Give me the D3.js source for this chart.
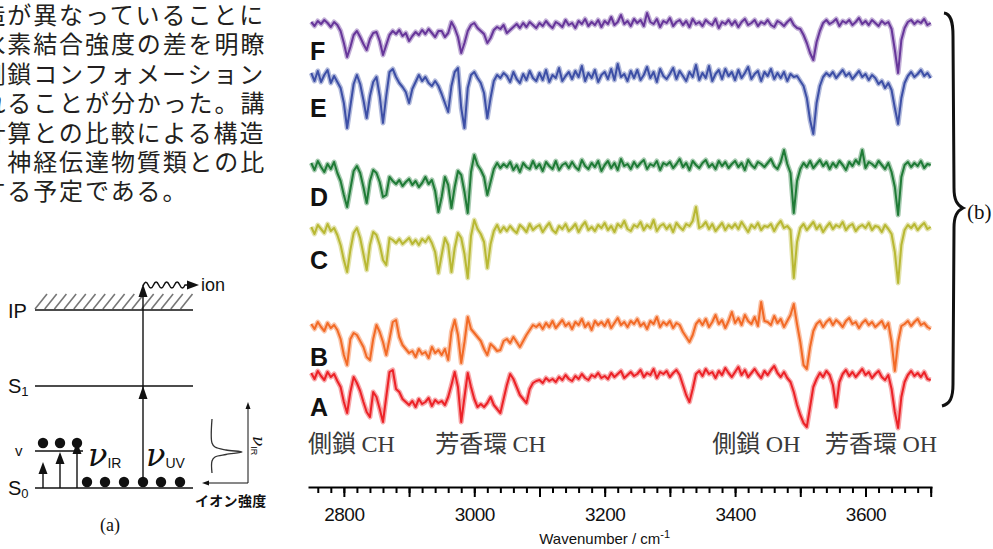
<!DOCTYPE html>
<html>
<head>
<meta charset="utf-8">
<script src="https://cdn.jsdelivr.net/npm/d3@7"></script>
<style>
  body { margin: 0; background: #fff; }
  svg { display: block; }
</style>
</head>
<body>
<script>
// ---- data -----------------------------------------------------------------
// IR-UV double resonance spectra, sampled every 5 cm-1 (2750 - 3700 cm-1)
const wavenumbers = d3.range(2750, 3701, 5);

const traceNames = ["A", "B", "C", "D", "E", "F"];
const traceColors = ["#ec2227", "#f26a26", "#b8b833", "#1f7b36", "#3d4fa6", "#67369a"];
// vertical offset of each trace (same units as the values)
const traceOffsets = [110, 160, 257, 320, 409, 462];

const spectrumA = [
  4, -2, 6, 1, -3, 5, 0, 3, -4, -10,
  -25, -36, -15, 0, -6, -14, -25, -35, -40, -15,
  -20, -32, -45, -20, 5, 7, -12, -15, -22, -25,
  -28, -24, -30, -22, -27, -25, -21, -29, -23, -26,
  -24, -28, -20, -8, 5, -10, -45, -20, 4, -10,
  -22, -30, -27, -30, -26, -20, -28, -32, -36, -22,
  -8, 3, -2, -10, -18, -22, -26, -12, -6, -4,
  -3, -6, -1, -4, -2, -5, 0, -3, 2, -2,
  -4, 1, -2, 3, -1, -3, 2, 0, 4, -1,
  1, -2, 4, 0, 3, 6, -1, 2, 5, 1,
  3, 7, 0, 4, 2, 8, -1, 5, 3, 6,
  0, 4, 7, 2, -8, -18, -25, -12, 3, 6,
  1, 8, 3, 5, -1, 6, 2, 9, 4, 0,
  5, 10, 2, 7, 0, 4, 8, 3, -1, 6,
  2, 7, 11, 4, 0, 5, -1, -5, -15, -28,
  -38, -46, -50, -30, -10, -2, 4, 0, 6, 2,
  -8, -30, -5, 3, 7, 1, 5, 0, 4, 8,
  2, 5, -1, 3, 6, 0, -3, 2, -12, -35,
  -51, -20, -5, 2, 6, 1, 4, 0, 5, -2,
  -3
];

const spectrumB = [
  3, -2, 5, 0, -4, 4, -1, 2, -3, -12,
  -28, -38, -12, -6, -8, -14, -20, -30, -33, -12,
  2, -5, -15, -28, -12, 5, 7, -10, -18, -22,
  -26, -24, -30, -22, -27, -25, -31, -20, -26, -23,
  -28, -22, -33, -5, 7, -8, -36, -15, 10, -2,
  -6, -10, -14, -22, -28, -17, -20, -24, -23, -14,
  -12, -16, -10, -15, -20, -14, -8, -3, 2, 0,
  3, -2, 4, 0, 6, -1, 3, 7, 1, 4,
  -2, 5, 2, 8, 0, 4, -3, 6, 2, 5,
  1, 7, -1, 4, 9, 2, 5, 0, 6, 3,
  8, 1, 4, -2, 6, 3, 10, 0, 5, 2,
  6, -1, 4, 2, -5, -10, -15, -8, 3, 7,
  2, 8, 0, 5, 12, 3, 7, -1, 6, 15,
  4, 9, 2, 12, 6, 3, 10, 1, 25, 6,
  5, 2, 11, 4, 8, 0, 6, 12, 23, 3,
  -15, -38, -42, -20, -4, 3, 6, 0, 5, 8,
  2, 7, 4, 0, 6, 9, 3, 5, -1, 4,
  7, 2, 5, 0, 3, 6, -1, 4, -15, -44,
  -15, 1, 3, 6, 1, 5, 8, 2, 4, 0,
  -2
];

const spectrumC = [
  3, -4, 5, 1, -3, 6, -1, 2, -5, -15,
  -30, -42, -20, -3, 2, -8, -24, -40, -15, -2,
  -5, -15, -30, -35, -8, -10, -13, -9, -14, -11,
  -8, -14, -10, -15, -9, -12, -7, -13, -22, -43,
  -25, -8, -15, -42, -18, -3, -8, -24, -48, -6,
  10, 1, -4, -12, -38, -14, -1, 5, -2, 3,
  -1, 4, 0, -3, 5, 2, -2, 6, 0, 3,
  5, -2, 3, 7, 0, -3, 4, 1, 6, -1,
  2, 6, -2, 4, 8, 0, 3, -1, 5, 2,
  7, 0, 4, -2, 6, 3, 9, 1, -1, 5,
  3, 8, 0, 5, 2, 10, -1, 4, 6, 1,
  5, -2, 7, 3, 0, 6, 4, 9, 23, 2,
  4, 8, 1, 6, -1, 3, 7, 0, 5, 2,
  6, 1, 8, 3, -2, 5, 2, 7, 0, 4,
  3, 6, -1, 5, 9, 2, 4, 0, -48, -12,
  2, 6, 0, 4, 8, 1, 5, -2, 3, 7,
  1, 5, 3, 8, 0, 4, 6, -1, 3, 5,
  2, 7, 0, 4, 3, -2, 5, 1, -4, -22,
  -53, -15, 0, 5, 2, 6, 0, 4, 7, 1,
  3
];

const spectrumD = [
  4, -3, 6, 0, -5, 3, -2, 5, -6, -14,
  -28, -40, -22, -4, 1, -6, -20, -36, -14, -3,
  -6, -15, -30, -28, -10, -14, -17, -13, -19, -15,
  -12, -18, -14, -20, -16, -10, -17, -13, -24, -45,
  -30, -10, -18, -41, -20, -4, -8, -25, -46, -5,
  12, 2, -3, -10, -28, -15, -2, 4, -1, 3,
  0, 5, -3, 2, -5, 4, 0, -2, 6, -1,
  3, -4, 5, 1, -2, 6, -3, 2, 4, -1,
  5, 0, -3, 7, 1, -2, 4, 0, 6, -4,
  2, 6, -1, 4, -3, 8, 1, 3, -2, 5,
  0, 4, 7, -2, 3, 1, 6, -3, 4, 2,
  5, -1, 3, 8, 0, 4, -3, 6, 2, -1,
  4, 7, 0, 3, -2, 6, 1, 5, -1, 3,
  6, 0, 4, -3, 7, 2, -1, 5, 3, 0,
  4, 8, 1, -2, 5, 17, 3, -6, -46, -14,
  -2, 4, 0, 6, -1, 3, 7, 1, 5, -2,
  4, 0, 6, 2, -3, 5, 1, 7, 3, 17,
  -1, 5, 3, 0, 6, 2, -2, 4, -5, -20,
  -48, -10, 2, 5, 0, 4, 1, 6, -1, 3,
  2
];

const spectrumE = [
  5, -3, 7, -4, 3, 8, -5, 2, -4, -10,
  -25, -50, -28, -6, 3, -6, -22, -40, -18, -4,
  1, -18, -45, -18, 6, 9, 1, -5, -9, -14,
  -25, -11, -4, 3, -3, 1, -5, -8, -3, -8,
  -16, -25, -34, -8, 6, 10, -30, -50, -10, 3,
  6, 0, -5, -15, -40, -20, -3, 3, 0, 5,
  2, -4, 6, -1, -5, 4, -2, 7, 0, -3,
  5, -2, 8, -4, 3, 0, 10, -3, 2, 6,
  -1, 7, 1, 12, -3, 5, 0, 8, -4, 3,
  6, -1, 9, -2, 14, 1, 4, -3, 7, 0,
  8, -2, 3, 11, 0, 6, -4, 9, 2, -1,
  4, 10, -1, 7, 2, -3, 6, 1, 13, -2,
  5, 0, 12, -3, 4, 8, -1, 9, 2, 6,
  -2, 8, 0, 5, 11, -1, 4, 7, -3, 6,
  2, 9, -1, 5, 0, 6, -3, 4, 1, 2,
  -3, -8, -20, -42, -56, -25, -8, 1, 5, 2,
  6, 0, 4, 8, 2, 5, -1, 3, 7, 1,
  4, -2, 3, 0, -6, -3, -10, -5, -12, -30,
  -46, -20, -5, 2, 6, 1, 4, 8, 2, 5,
  0
];

const spectrumF = [
  3, -1, 4, 1, 5, 2, -2, 3, 0, -6,
  -18, -32, -22, -10, -6, -12, -19, -25, -14, -8,
  -7, -16, -30, -20, -10, -6, -9, -5, -11, -8,
  -16, -11, -7, -10, -5, -9, -4, -8, -12, -6,
  -6, -12, -8, 3, -3, -12, -28, -18, -6, 0,
  2, -3, -6, -9, -18, -13, -5, -2, -4, 0,
  -8, -5, -2, 1, -3, 2, -2, 3, 0, -3,
  2, -1, 4, 0, -3, 3, 1, -2, 5, 0,
  2, -3, 4, 1, 6, -1, 3, 0, 5, -2,
  4, 1, 8, 0, 3, 10, 1, 4, -1, 6,
  2, 5, -1, 12, 3, 1, 6, -2, 4, 2,
  7, -1, 3, 5, 0, 4, -2, 6, 1, 3,
  -1, 5, 2, 0, 6, -3, 3, 1, 5, 0,
  4, -2, 3, 6, 0, 2, 5, -1, 3, 1,
  5, 0, -2, 4, 2, -1, 3, 6, 0, -3,
  -4, -10, -18, -28, -35, -17, -6, 2, 5, 1,
  3, 6, -1, 4, 2, 5, 0, 3, 7, 1,
  4, 0, 5, 2, -1, 4, 1, 3, -4, -25,
  -48, -15, -3, 3, 5, 1, 4, 2, 6, 0,
  2
];

const minorTicks = d3.range(2760, 3701, 20);
const majorTicks = [2800, 2900, 3000, 3100, 3200, 3300, 3400, 3500, 3600, 3700];
const tickLabels = [2800, 3000, 3200, 3400, 3600];

const bandLabels = [
  { kanji: "側鎖", latin: "CH", at: 2745 },
  { kanji: "芳香環", latin: "CH", at: 2940 },
  { kanji: "側鎖", latin: "OH", at: 3365 },
  { kanji: "芳香環", latin: "OH", at: 3538 }
];

const paragraphLines = [
  "造が異なっていることに",
  "水素結合強度の差を明瞭",
  "側鎖コンフォメーション",
  "れることが分かった。講",
  "計算との比較による構造",
  "、神経伝達物質類との比",
  "する予定である。"
];

// ---- canvas ---------------------------------------------------------------
const W = 993, H = 549;
const svg = d3.select("body").append("svg")
    .attr("width", W).attr("height", H);
svg.append("rect").attr("width", W).attr("height", H).attr("fill", "#fff");

const sans = "'Liberation Sans', Arial, sans-serif";
const serif = "'Liberation Serif', 'Times New Roman', serif";
const cjk = "'Noto Sans CJK JP', sans-serif";

// ---- paragraph (cut off at the left edge, as in the page it came from) -----
svg.append("g").selectAll("text")
    .data(paragraphLines)
    .join("text")
    .attr("x", -18.6)
    .attr("y", (d, i) => 24 + i * 29.4)
    .attr("font-family", cjk)
    .attr("font-size", 24)
    .attr("letter-spacing", 1.9)
    .attr("fill", "#231f20")
    .text(d => d);

// ---- spectra (b) ----------------------------------------------------------
const x = d3.scaleLinear().domain([2745, 3702]).range([308, 932]);
const y = d3.scaleLinear().domain([0, 470]).range([487, 17]);

const series = [spectrumA, spectrumB, spectrumC, spectrumD, spectrumE, spectrumF]
    .map((values, i) => ({ name: traceNames[i], color: traceColors[i], offset: traceOffsets[i], values }));

const line = d3.line()
    .x((d, i) => x(wavenumbers[i]))
    .y(d => y(d));

const plot = svg.append("g").attr("class", "spectra");

// soft wide underlay gives the noisy band look, crisp line on top
plot.selectAll("path.halo")
    .data(series)
    .join("path")
    .attr("class", "halo")
    .attr("d", s => line(s.values.map(v => v + s.offset)))
    .attr("fill", "none")
    .attr("stroke", s => s.color)
    .attr("stroke-opacity", 0.4)
    .attr("stroke-width", 5)
    .attr("stroke-linejoin", "round");

plot.selectAll("path.trace")
    .data(series)
    .join("path")
    .attr("class", "trace")
    .attr("d", s => line(s.values.map(v => v + s.offset)))
    .attr("fill", "none")
    .attr("stroke", s => s.color)
    .attr("stroke-width", 2)
    .attr("stroke-linejoin", "round");

// trace letters sit a little below each baseline
plot.selectAll("text.trace-label")
    .data(series)
    .join("text")
    .attr("class", "trace-label")
    .attr("x", 310)
    .attr("y", s => y(s.offset) + (s.name === "F" ? 35 : 39))
    .attr("font-family", sans)
    .attr("font-weight", "bold")
    .attr("font-size", 25)
    .attr("fill", "#111")
    .text(s => s.name);

// x axis: minor + major ticks
const axisG = svg.append("g").attr("transform", `translate(0,${y(0)})`);
axisG.append("g")
    .call(d3.axisBottom(x).tickValues(minorTicks).tickSize(6).tickSizeOuter(0).tickFormat(""))
    .call(g => g.selectAll("line").attr("stroke-width", 2))
    .call(g => g.select(".domain").attr("stroke-width", 2));
axisG.append("g")
    .call(d3.axisBottom(x).tickValues(majorTicks).tickSize(10).tickSizeOuter(0)
        .tickPadding(11)
        .tickFormat(d => tickLabels.includes(d) ? d : ""))
    .call(g => g.select(".domain").remove())
    .call(g => g.selectAll("line").attr("stroke-width", 2))
    .call(g => g.selectAll("text")
        .attr("font-family", sans)
        .attr("font-size", 19)
        .attr("letter-spacing", -0.5)
        .attr("fill", "#111"));

const xTitle = svg.append("text")
    .attr("x", x(3200))
    .attr("y", 544)
    .attr("text-anchor", "middle")
    .attr("font-family", sans)
    .attr("font-size", 15)
    .attr("fill", "#111");
xTitle.append("tspan").text("Wavenumber / cm");
xTitle.append("tspan").attr("dy", -6).attr("font-size", 11).text("-1");

// band assignment labels
const bands = svg.append("g").selectAll("text")
    .data(bandLabels)
    .join("text")
    .attr("x", d => x(d.at))
    .attr("y", 452)
    .attr("font-size", 24)
    .attr("fill", "#3a3a3a");
bands.append("tspan").attr("font-family", cjk).text(d => d.kanji + " ");
bands.append("tspan").attr("font-family", serif).text(d => d.latin);

// brace and (b)
svg.append("path")
    .attr("d", "M944,13 C951,14 953,22 953,36 L954,188 C954,200 957,205 963,208 C957,211 954,216 954,228 L953,384 C953,398 950,404 942,406")
    .attr("fill", "none")
    .attr("stroke", "#111")
    .attr("stroke-width", 3);
svg.append("text")
    .attr("x", 967).attr("y", 219)
    .attr("font-family", serif).attr("font-size", 21)
    .attr("fill", "#111")
    .text("(b)");

// ---- energy diagram (a) ---------------------------------------------------
const dg = svg.append("g").attr("class", "diagram").attr("stroke-linecap", "butt");

// hatched continuum above IP
for (let hx = 35; hx <= 181; hx += 9.7) {
    dg.append("line")
        .attr("x1", hx).attr("y1", 309).attr("x2", hx + 12).attr("y2", 294)
        .attr("stroke", "#777").attr("stroke-width", 1.6);
}
const levels = [
    { y: 310, x1: 35, x2: 193 },
    { y: 386, x1: 35, x2: 193 },
    { y: 451, x1: 35, x2: 83 },
    { y: 488, x1: 35, x2: 193 }
];
dg.selectAll("line.level").data(levels).join("line")
    .attr("class", "level")
    .attr("x1", d => d.x1).attr("x2", d => d.x2)
    .attr("y1", d => d.y).attr("y2", d => d.y)
    .attr("stroke", "#111").attr("stroke-width", 1.6);

const arrowHead = (cx, tipY, w, h) =>
    `M${cx},${tipY} L${cx - w / 2},${tipY + h} L${cx + w / 2},${tipY + h} Z`;

// IR excitation arrows
[[43, 462], [60, 452], [77, 442]].forEach(([ax, tip]) => {
    dg.append("line").attr("x1", ax).attr("x2", ax).attr("y1", 488).attr("y2", tip + 6)
        .attr("stroke", "#111").attr("stroke-width", 1.4);
    dg.append("path").attr("d", arrowHead(ax, tip, 9, 12)).attr("fill", "#111");
});
// vibrationally excited population
[43, 60, 77].forEach(cx => dg.append("circle").attr("cx", cx).attr("cy", 443).attr("r", 5.2).attr("fill", "#111"));
// ground state population
[87, 105, 124, 143, 161, 180].forEach(cx => dg.append("circle").attr("cx", cx).attr("cy", 482).attr("r", 5.2).attr("fill", "#111"));

// UV arrow to S1 and on to the ion
dg.append("line").attr("x1", 143).attr("x2", 143).attr("y1", 482).attr("y2", 290)
    .attr("stroke", "#111").attr("stroke-width", 1.4);
dg.append("path").attr("d", arrowHead(143, 386, 9, 13)).attr("fill", "#111");
dg.append("path").attr("d", arrowHead(143, 284, 9, 13)).attr("fill", "#111");

// wavy line to "ion"
let wave = "M143,286";
for (let k = 0; k < 4; k++) {
    const sx = 143 + k * 10.5;
    wave += ` Q${sx + 2.6},279 ${sx + 5.25},285 Q${sx + 7.9},291 ${sx + 10.5},285`;
}
wave += " L190,285";
dg.append("path").attr("d", wave).attr("fill", "none").attr("stroke", "#111").attr("stroke-width", 1.5);
dg.append("path").attr("d", "M199,285 L187,280.5 L187,289.5 Z").attr("fill", "#111");
dg.append("text").attr("x", 201).attr("y", 291)
    .attr("font-family", sans).attr("font-size", 18).attr("fill", "#111").text("ion");

// level labels
const lvl = (txt, sub, lx, ly) => {
    const t = dg.append("text").attr("x", lx).attr("y", ly)
        .attr("font-family", sans).attr("font-size", 20).attr("fill", "#111");
    t.append("tspan").text(txt);
    if (sub) t.append("tspan").attr("font-size", 13).attr("dy", 3).text(sub);
};
lvl("IP", null, 8, 318);
lvl("S", "1", 8, 393);
lvl("S", "0", 8, 495);
dg.append("text").attr("x", 15).attr("y", 456)
    .attr("font-family", sans).attr("font-size", 15).attr("fill", "#111").text("v");

// nu labels
const nuLabel = (lx, ly, sub) => {
    const t = dg.append("text").attr("x", lx).attr("y", ly).attr("fill", "#111");
    t.append("tspan").attr("font-family", "'DejaVu Serif', serif").attr("font-style", "italic")
        .attr("font-size", 32).text("ν");
    t.append("tspan").attr("font-family", sans).attr("font-size", 14).attr("dy", 2).text(sub);
};
nuLabel(88, 466, "IR");
nuLabel(146, 466, "UV");

// inset: ion signal vs IR frequency
dg.append("line").attr("x1", 248).attr("x2", 248).attr("y1", 483).attr("y2", 408)
    .attr("stroke", "#111").attr("stroke-width", 1);
dg.append("path").attr("d", arrowHead(248, 402, 5, 7)).attr("fill", "#111");
dg.append("line").attr("x1", 248).attr("x2", 208).attr("y1", 483).attr("y2", 483)
    .attr("stroke", "#111").attr("stroke-width", 1);
dg.append("path").attr("d", "M202,483 L209,480.5 L209,485.5 Z").attr("fill", "#111");
const insetCurve = [[212, 419], [212, 443], [215, 447], [226, 450], [242, 452], [226, 454.5], [215, 457], [212, 461], [212, 473]];
dg.append("path")
    .attr("d", d3.line().curve(d3.curveCatmullRom)(insetCurve))
    .attr("fill", "none").attr("stroke", "#333").attr("stroke-width", 1.3);
const rot = dg.append("text").attr("transform", "translate(253,436) rotate(90)").attr("fill", "#111");
rot.append("tspan").attr("font-family", "'DejaVu Serif', serif").attr("font-style", "italic")
    .attr("font-size", 17).text("ν");
rot.append("tspan").attr("font-family", sans).attr("font-size", 9).attr("dy", 2).text("IR");
dg.append("text").attr("x", 195).attr("y", 506)
    .attr("font-family", cjk).attr("font-weight", "bold").attr("font-size", 14)
    .attr("letter-spacing", 0.3).attr("fill", "#111").text("イオン強度");
dg.append("text").attr("x", 110).attr("y", 531).attr("text-anchor", "middle")
    .attr("font-family", serif).attr("font-size", 18).attr("fill", "#111").text("(a)");
</script>
</body>
</html>
